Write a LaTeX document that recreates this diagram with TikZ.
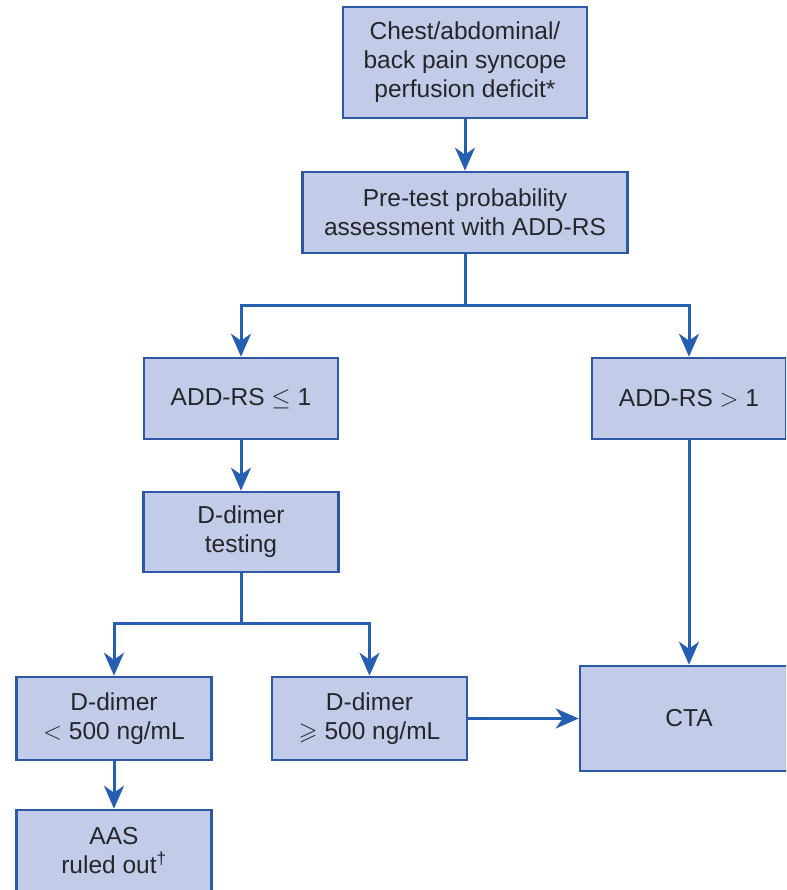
\documentclass[tikz,border=0pt]{standalone}
\usepackage{fontspec}
\setmainfont{Liberation Sans}
\usepackage{amssymb}
\usetikzlibrary{arrows.meta,calc}
\definecolor{boxfill}{RGB}{194,204,232}
\definecolor{boxline}{RGB}{44,88,164}
\definecolor{flowline}{RGB}{38,94,178}
\definecolor{boxtext}{RGB}{38,38,42}

\begin{document}
\begin{tikzpicture}[x=1pt,y=-1pt,
    box/.style={draw=boxline,fill=boxfill,line width=2.6pt,align=center,text=boxtext,
      inner sep=0pt,font=\fontsize{24.5}{29}\selectfont},
    link/.style={draw=flowline,line width=3pt},
    flow/.style={link,-{Stealth[length=23pt,width=20pt,inset=7pt]}}]
  \path[use as bounding box,clip](0,0)rectangle(786,890);

  \node[box,minimum width=244pt,minimum height=111pt](chest)at(465,62.5)
    {Chest/abdominal/\\back pain syncope\\perfusion deficit*};
  \node[box,minimum width=325pt,minimum height=81pt](pretest)at(465,212.5)
    {Pre-test probability\\assessment with ADD-RS};

  \node[box,minimum width=194pt,minimum height=81pt](le1)at(241,398.5){ADD-RS $\leq$ 1};
  \node[box,minimum width=194pt,minimum height=81pt](gt1)at(689,398.5){ADD-RS $>$ 1};

  \node[box,minimum width=195pt,minimum height=80pt](ddtest)at(241,532){D-dimer\\testing};

  \node[box,minimum width=195pt,minimum height=83pt](lt500)at(114,718.5){D-dimer\\$<$ 500 ng/mL};
  \node[box,minimum width=195pt,minimum height=83pt](ge500)at(369.5,718.5){D-dimer\\$\geqslant$ 500 ng/mL};
  \node[box,minimum width=218pt,minimum height=105pt](cta)at(689,718.5){CTA};

  \node[box,minimum width=195pt,minimum height=82pt](aas)at(114,851){AAS\\ruled out\textsuperscript{\dag}};

  \coordinate(split1)at(465,305);
  \coordinate(split2)at(241,623);

  % connectors
  \draw[flow](chest)--(pretest);
  \draw[link](pretest)--(split1);
  \foreach \t in{le1,gt1}{
    \draw[flow](split1)-|(\t);
  }
  \draw[flow](le1)--(ddtest);
  \draw[link](ddtest)--(split2);
  \foreach \t in{lt500,ge500}{
    \draw[flow](split2)-|(\t);
  }
  \draw[flow](lt500)--(aas);
  \draw[flow](gt1)--(cta);
  \draw[flow](ge500)--(cta);
\end{tikzpicture}
\end{document}
